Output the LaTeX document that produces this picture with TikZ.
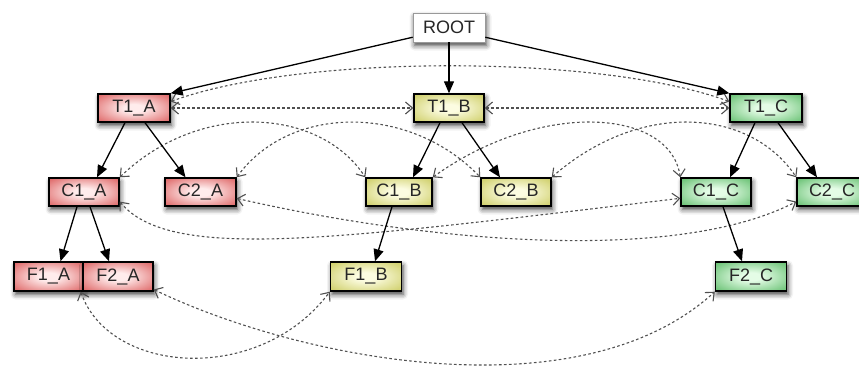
\documentclass[tikz,border=0pt]{standalone}
\usepackage{fontspec}
\setmainfont{Liberation Sans}
\usetikzlibrary{arrows.meta,shadows.blur}

\definecolor{rEdge}{RGB}{218,85,85}
\definecolor{rCen}{RGB}{255,236,236}
\definecolor{yEdge}{RGB}{200,200,88}
\definecolor{yCen}{RGB}{252,252,225}
\definecolor{gEdge}{RGB}{88,185,100}
\definecolor{gCen}{RGB}{228,252,230}
\definecolor{linkgray}{RGB}{80,80,80}

\pgfdeclareradialshading{redglow}{\pgfpoint{0bp}{0bp}}{color(0bp)=(rCen); color(7bp)=(rCen); color(38bp)=(rEdge); color(100bp)=(rEdge)}
\pgfdeclareradialshading{yellowglow}{\pgfpoint{0bp}{0bp}}{color(0bp)=(yCen); color(7bp)=(yCen); color(38bp)=(yEdge); color(100bp)=(yEdge)}
\pgfdeclareradialshading{greenglow}{\pgfpoint{0bp}{0bp}}{color(0bp)=(gCen); color(7bp)=(gCen); color(38bp)=(gEdge); color(100bp)=(gEdge)}

\begin{document}
\begin{tikzpicture}[x=1pt,y=-1pt,
  box/.style={draw=black, line width=1.4pt, minimum width=70pt, minimum height=28pt,
    inner sep=0pt, text=black!85, font=\fontsize{18}{18}\selectfont,
    blur shadow={shadow xshift=1.5pt, shadow yshift=-3.5pt, shadow blur radius=5pt, shadow opacity=75}},
  rbox/.style={box, shade, shading=redglow},
  ybox/.style={box, shade, shading=yellowglow},
  gbox/.style={box, shade, shading=greenglow},
  wbox/.style={box, draw=black!40, line width=0.6pt, fill=white, minimum width=72pt, minimum height=29pt},
  tree/.style={-{Triangle[length=12pt,width=10pt]}, line width=1.3pt, draw=black},
  link/.style={{Straight Barb[length=7pt,width=12pt]}-{Straight Barb[length=7pt,width=12pt]},
    draw=linkgray, line width=1.1pt, dash pattern=on 2.6pt off 2.4pt}
]
\useasboundingbox (0,0) rectangle (859,365);

% nodes
\node[wbox] (ROOT) at (449,27.5) {ROOT};
\node[rbox, minimum width=72pt] (T1_A) at (134,108) {T1\_A};
\node[ybox] (T1_B) at (449,108) {T1\_B};
\node[gbox, minimum width=72pt] (T1_C) at (766,108) {T1\_C};

\node[rbox] (C1_A) at (84,192) {C1\_A};
\node[rbox, minimum width=71pt] (C2_A) at (200.5,192) {C2\_A};
\node[ybox, minimum width=66pt] (C1_B) at (399,192) {C1\_B};
\node[ybox] (C2_B) at (516,192) {C2\_B};
\node[gbox] (C1_C) at (716,192) {C1\_C};
\node[gbox] (C2_C) at (832,192) {C2\_C};

\node[rbox, minimum width=69pt, minimum height=29pt] (F1_A) at (48.5,276.5) {F1\_A};
\node[rbox, minimum width=70pt, minimum height=29pt] (F2_A) at (118,276.5) {F2\_A};
\node[ybox, minimum width=71pt, minimum height=29pt] (F1_B) at (366,276.5) {F1\_B};
\node[gbox, minimum width=71pt, minimum height=29pt] (F2_C) at (751,276.5) {F2\_C};

% dashed links
\draw[link] (T1_A.east) -- (T1_B.west);
\draw[link] (T1_B.east) -- (T1_C.west);
\draw[link] (T1_A.10) .. controls (300,54) and (600,54) .. (T1_C.170);

\draw[link] (C1_A.north east) .. controls (200,100) and (320,108) .. (C1_B.north west);
\draw[link] (C2_A.north east) .. controls (290,104) and (410,104) .. (C2_B.north west);
\draw[link] (C1_B.north east) .. controls (540,100) and (670,108) .. (C1_C.north west);
\draw[link] (C2_B.north east) .. controls (640,100) and (750,108) .. (C2_C.north west);

\draw[link] (C1_A.-15) .. controls (170,262) and (330,240) .. (C1_C.190);
\draw[link] (C2_A.-10) .. controls (440,245) and (680,262) .. (C2_C.195);

\draw[link] ([xshift=-3pt]F1_A.south east) .. controls (110,375) and (260,385) .. (F1_B.south west);
\draw[link] (F2_A.-20) .. controls (300,360) and (580,415) .. (F2_C.south west);

% tree arrows
\draw[tree] (ROOT.195) -- (T1_A.north east);
\draw[tree] (ROOT) -- (T1_B);
\draw[tree] (ROOT.345) -- (T1_C.north west);

\draw[tree] ([xshift=-9pt]T1_A.south) -- ([xshift=13pt]C1_A.north);
\draw[tree] ([xshift=11pt]T1_A.south) -- ([xshift=-15pt]C2_A.north);
\draw[tree] ([xshift=-9pt]T1_B.south) -- ([xshift=14pt]C1_B.north);
\draw[tree] ([xshift=13pt]T1_B.south) -- ([xshift=-16pt]C2_B.north);
\draw[tree] ([xshift=-11pt]T1_C.south) -- ([xshift=14pt]C1_C.north);
\draw[tree] ([xshift=12pt]T1_C.south) -- ([xshift=-15pt]C2_C.north);

\draw[tree] ([xshift=-7pt]C1_A.south) -- ([xshift=12pt]F1_A.north);
\draw[tree] ([xshift=6pt]C1_A.south) -- ([xshift=-9pt]F2_A.north);
\draw[tree] ([xshift=-7pt]C1_B.south) -- ([xshift=9pt]F1_B.north);
\draw[tree] ([xshift=7pt]C1_C.south) -- ([xshift=-9pt]F2_C.north);
\end{tikzpicture}
\end{document}
